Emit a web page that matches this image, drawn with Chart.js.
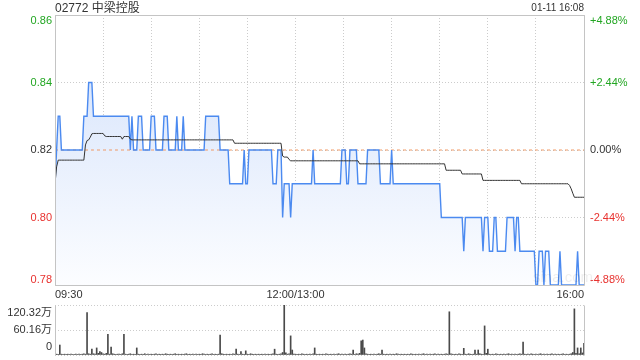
<!DOCTYPE html>
<html>
<head>
<meta charset="utf-8">
<title>02772 中梁控股</title>
<script src="https://cdn.jsdelivr.net/npm/chart.js@4.4.1/dist/chart.umd.min.js"></script>
<style>
  body { margin: 0; background: #fff; }
  #box { position: relative; width: 640px; height: 360px; overflow: hidden; color: #333;
         font-family: 'Liberation Sans', Arial, 'Noto Sans CJK SC', sans-serif; }
  #name { position: absolute; left: 55px; top: 1px; font-size: 12px; line-height: 14px; }
  #stamp { position: absolute; right: 56px; top: 2px; font-size: 10px; line-height: 12px; }
  #mark { position: absolute; left: 533px; top: 268px; font-size: 15px; color: rgba(0, 0, 0, 0.07); }
  canvas { position: absolute; left: 0; }
  #priceChart { top: 0; }
  #volChart { top: 300px; }
</style>
</head>
<body>
<div id="box">
  <canvas id="priceChart" width="640" height="300"></canvas>
  <canvas id="volChart" width="640" height="60"></canvas>
  <div id="name">02772 中梁控股</div>
  <div id="stamp">01-11 16:08</div>
  <div id="mark">sina.com</div>
</div>
<script>
const prevClose = 0.82;
const priceTicks = [0.78, 0.80, 0.82, 0.84, 0.86];
const volTicks = [0, 60.16, 120.32];
const gridMinutes = [0, 30, 60, 90, 120, 150, 180, 210, 240, 270, 300, 330];
const timeLabelMinutes = [0, 150, 330];
const timeLabels = ['09:30', '12:00/13:00', '16:00'];

// one value per trading minute, 09:30 .. 16:00 (lunch break removed)
const prices = [
  0.81,0.82,0.83,0.83,0.82,0.82,0.82,0.82,0.82,0.82,0.82,0.82,0.82,0.82,0.82,0.82,0.82,0.82,0.83,0.83,0.83,0.84,0.84,0.84,0.83,0.83,0.83,0.83,0.83,0.83,
  0.83,0.83,0.83,0.83,0.83,0.83,0.83,0.83,0.83,0.83,0.83,0.83,0.83,0.83,0.83,0.83,0.83,0.82,0.83,0.82,0.82,0.82,0.83,0.83,0.83,0.82,0.82,0.82,0.82,0.82,
  0.83,0.83,0.83,0.82,0.82,0.82,0.82,0.82,0.83,0.83,0.83,0.82,0.82,0.82,0.82,0.82,0.83,0.82,0.82,0.82,0.83,0.82,0.82,0.82,0.82,0.82,0.82,0.82,0.82,0.82,
  0.82,0.82,0.82,0.82,0.83,0.83,0.83,0.83,0.83,0.83,0.83,0.83,0.83,0.82,0.82,0.82,0.82,0.82,0.82,0.81,0.81,0.81,0.81,0.81,0.81,0.81,0.81,0.81,0.82,0.81,
  0.81,0.82,0.82,0.82,0.82,0.82,0.82,0.82,0.82,0.82,0.82,0.82,0.82,0.82,0.82,0.82,0.81,0.81,0.81,0.82,0.82,0.82,0.80,0.81,0.81,0.81,0.81,0.80,0.81,0.81,
  0.81,0.81,0.81,0.81,0.81,0.81,0.81,0.81,0.81,0.81,0.81,0.82,0.81,0.81,0.81,0.81,0.81,0.81,0.81,0.81,0.81,0.81,0.81,0.81,0.81,0.81,0.81,0.81,0.81,0.82,
  0.82,0.82,0.81,0.81,0.82,0.82,0.82,0.82,0.82,0.81,0.81,0.81,0.81,0.81,0.81,0.82,0.82,0.82,0.82,0.82,0.82,0.82,0.82,0.81,0.81,0.81,0.81,0.81,0.81,0.81,
  0.82,0.81,0.81,0.81,0.81,0.81,0.81,0.81,0.81,0.81,0.81,0.81,0.81,0.81,0.81,0.81,0.81,0.81,0.81,0.81,0.81,0.81,0.81,0.81,0.81,0.81,0.81,0.81,0.81,0.81,
  0.81,0.80,0.80,0.80,0.80,0.80,0.80,0.80,0.80,0.80,0.80,0.80,0.80,0.80,0.80,0.79,0.80,0.80,0.80,0.80,0.80,0.80,0.80,0.80,0.80,0.80,0.80,0.79,0.80,0.80,
  0.80,0.79,0.79,0.79,0.80,0.80,0.79,0.79,0.79,0.79,0.79,0.79,0.80,0.80,0.80,0.80,0.80,0.79,0.80,0.80,0.79,0.79,0.79,0.79,0.79,0.79,0.79,0.79,0.79,0.79,
  0.78,0.78,0.79,0.79,0.79,0.78,0.79,0.79,0.79,0.78,0.78,0.78,0.78,0.78,0.78,0.79,0.78,0.78,0.78,0.78,0.78,0.78,0.78,0.78,0.78,0.78,0.79,0.78,0.78,0.78,
  0.78
];

const avgPrices = [
  0.810,0.815,0.817,0.817,0.817,0.817,0.817,0.817,0.817,0.817,0.817,0.817,0.817,0.817,0.817,0.817,0.817,0.817,0.817,0.8215,0.8228,0.8230,0.8238,0.8248,0.8249,0.8249,0.8249,0.8249,0.8249,0.8249,
  0.8249,0.8242,0.824,0.824,0.824,0.824,0.824,0.824,0.824,0.824,0.824,0.824,0.8232,0.824,0.824,0.824,0.824,0.8232,0.823,0.823,0.823,0.823,0.823,0.823,0.823,0.823,0.823,0.823,0.823,0.823,
  0.823,0.823,0.823,0.823,0.823,0.823,0.823,0.823,0.823,0.823,0.823,0.823,0.823,0.823,0.823,0.823,0.823,0.823,0.823,0.823,0.823,0.823,0.823,0.823,0.823,0.823,0.823,0.823,0.823,0.823,
  0.823,0.823,0.823,0.823,0.823,0.823,0.823,0.823,0.823,0.823,0.823,0.823,0.823,0.823,0.823,0.823,0.823,0.823,0.823,0.823,0.823,0.823,0.822,0.822,0.822,0.822,0.822,0.822,0.822,0.822,
  0.822,0.822,0.822,0.822,0.822,0.822,0.822,0.822,0.822,0.822,0.822,0.822,0.822,0.822,0.822,0.822,0.822,0.822,0.822,0.822,0.822,0.822,0.8182,0.8179,0.8179,0.8179,0.8172,0.8168,0.8168,0.8168,
  0.8168,0.8168,0.8168,0.8168,0.8168,0.8168,0.8168,0.8168,0.8168,0.8168,0.8168,0.8168,0.8168,0.8168,0.8168,0.8168,0.8168,0.8168,0.8168,0.8168,0.8168,0.8168,0.8168,0.8168,0.8168,0.8168,0.8168,0.8168,0.8168,0.8168,
  0.8168,0.8168,0.8168,0.8168,0.8168,0.8168,0.8168,0.8168,0.8168,0.8168,0.8159,0.8159,0.8159,0.8159,0.8159,0.8159,0.8159,0.8159,0.8159,0.8159,0.8159,0.8159,0.8159,0.8159,0.8159,0.8159,0.8159,0.8159,0.8159,0.8159,
  0.8159,0.8159,0.8159,0.8159,0.8159,0.8159,0.8159,0.8159,0.8159,0.8159,0.8159,0.8159,0.8159,0.8159,0.8159,0.8159,0.8159,0.8159,0.8159,0.8159,0.8159,0.8159,0.8159,0.8159,0.8159,0.8159,0.8159,0.8159,0.8159,0.8159,
  0.8159,0.8159,0.8159,0.8159,0.814,0.814,0.814,0.814,0.814,0.814,0.814,0.814,0.814,0.814,0.8129,0.8129,0.8129,0.8129,0.8129,0.8129,0.8129,0.8129,0.8129,0.8129,0.8129,0.8129,0.8129,0.811,0.811,0.811,
  0.811,0.811,0.811,0.811,0.811,0.811,0.811,0.811,0.811,0.811,0.811,0.811,0.811,0.811,0.811,0.811,0.811,0.811,0.811,0.811,0.811,0.810,0.810,0.810,0.810,0.810,0.810,0.810,0.810,0.810,
  0.810,0.810,0.810,0.810,0.810,0.810,0.810,0.810,0.810,0.810,0.810,0.810,0.810,0.810,0.810,0.810,0.810,0.810,0.810,0.810,0.810,0.8095,0.8085,0.8072,0.806,0.806,0.806,0.806,0.806,0.806,
  0.806
];

// 万股
const volumes = [
  5,2,1,24,2,1,2,1,2,1,2,1,1,2,1,2,1,2,3,2,102,3,2,14,3,2,17,4,8,6,
  3,2,4,50,2,19,3,2,1,2,2,1,3,50,2,1,2,3,1,2,1,17,2,1,2,1,3,1,2,1,
  2,1,2,3,1,2,1,2,1,3,2,1,2,1,2,3,1,2,1,2,1,2,3,1,2,1,2,1,2,1,
  2,1,3,2,1,2,1,2,3,1,2,1,2,48,3,2,1,2,1,2,1,3,2,14,2,1,8,2,1,10,
  2,1,3,2,1,2,1,2,1,2,1,2,1,2,1,2,3,14,2,1,2,3,6,120.32,5,2,3,46,12,2,
  2,1,2,1,3,2,1,2,1,2,1,3,17,2,1,2,1,2,1,3,2,1,2,1,2,1,2,3,1,2,
  1,2,1,2,3,2,12,1,3,2,4,34,36,17,3,2,1,2,1,2,1,2,3,2,12,2,1,2,1,2,
  1,2,1,3,2,1,2,1,2,1,2,1,3,2,1,2,1,2,1,2,3,1,2,1,2,1,2,3,1,2,
  1,2,1,2,3,2,104,3,2,1,2,1,3,2,1,16,2,1,3,2,1,2,12,2,12,3,2,1,70,4,
  14,2,1,2,1,3,2,1,2,1,2,1,2,3,1,2,1,2,1,2,3,2,31,2,1,2,1,3,2,1,
  2,1,2,3,1,2,1,2,1,2,3,1,2,1,2,1,2,3,1,2,1,2,3,6,111,4,17,3,17,5,
  28
];

const minutes = prices.map((p, i) => i);

const green = '#22a622';
const red = '#e8322f';
const ink = '#333';
const gridColor = '#cccccc';

function tickColor(v) {
  if (v > prevClose + 1e-6) return green;
  if (v < prevClose - 1e-6) return red;
  return ink;
}

// top label hangs below its line, bottom label sits above it
function edgeLabel(text, i, n) {
  if (i === n - 1) return ['', text];
  if (i === 0) return [text, ''];
  return text;
}

function pctLabel(v) {
  const p = (v - prevClose) / prevClose * 100;
  return (p > 0.001 ? '+' : '') + p.toFixed(2) + '%';
}

const frame = {
  id: 'frame',
  afterDraw(chart, args, opts) {
    const a = chart.chartArea;
    const ctx = chart.ctx;
    const l = Math.round(a.left) + 0.5, r = Math.round(a.right) + 0.5;
    const t = Math.round(a.top) + 0.5, b = Math.round(a.bottom) + 0.5;
    ctx.save();
    ctx.strokeStyle = '#c4c4c4';
    ctx.lineWidth = 1;
    ctx.setLineDash([]);
    ctx.beginPath();
    ctx.moveTo(l, t); ctx.lineTo(l, b);
    ctx.moveTo(r, t); ctx.lineTo(r, b);
    if (opts.box) {
      ctx.moveTo(l, t); ctx.lineTo(r, t);
      ctx.moveTo(l, b); ctx.lineTo(r, b);
    }
    ctx.stroke();
    ctx.restore();
  }
};

Chart.defaults.font.family = "'Liberation Sans', Arial, 'Noto Sans CJK SC', sans-serif";
Chart.defaults.font.size = 11;
Chart.defaults.color = ink;

document.addEventListener('DOMContentLoaded', function() {
  new Chart(document.getElementById('priceChart'), {
    type: 'line',
    data: {
      labels: minutes,
      datasets: [{
        label: '均价',
        data: avgPrices,
        borderColor: '#333',
        borderWidth: 1,
        order: 1
      }, {
        label: '价格',
        data: prices,
        borderColor: '#4b8af0',
        borderWidth: 1.4,
        fill: 'start',
        backgroundColor: function(c) {
          const area = c.chart.chartArea;
          if (!area) return 'rgba(0,0,0,0)';
          const g = c.chart.ctx.createLinearGradient(0, area.top, 0, area.bottom);
          g.addColorStop(0, '#d1e0fb');
          g.addColorStop(1, '#fcfdff');
          return g;
        },
        order: 2
      }, {
        label: '昨收',
        data: prices.map(() => prevClose),
        borderColor: '#f09660',
        borderWidth: 1,
        borderDash: [3, 3],
        order: 3
      }]
    },
    options: {
      responsive: false,
      animation: false,
      layout: { padding: { top: 15, left: 0, right: 0, bottom: 0 } },
      elements: { point: { radius: 0 }, line: { tension: 0 } },
      plugins: {
        legend: { display: false },
        tooltip: { enabled: false },
        filler: { drawTime: 'beforeDatasetsDraw' },
        frame: { box: true }
      },
      scales: {
        x: {
          type: 'linear',
          min: 0,
          max: 330,
          afterBuildTicks: s => { s.ticks = gridMinutes.map(v => ({ value: v })); },
          afterFit: s => { s.height = 15; s.paddingLeft = 0; s.paddingRight = 0; },
          grid: { color: gridColor, drawTicks: false },
          border: { display: false, dash: [1, 2] },
          ticks: {
            autoSkip: false,
            maxRotation: 0,
            padding: 3,
            color: ink,
            callback: function(v) {
              const k = timeLabelMinutes.indexOf(v);
              if (k < 0) return '';
              if (k === 0) return ' '.repeat(9) + timeLabels[k];
              if (k === timeLabels.length - 1) return timeLabels[k] + ' '.repeat(9);
              return timeLabels[k];
            }
          }
        },
        y: {
          position: 'left',
          min: 0.78,
          max: 0.86,
          afterBuildTicks: s => { s.ticks = priceTicks.map(v => ({ value: v })); },
          afterFit: s => { s.width = 55; s.paddingTop = 0; s.paddingBottom = 0; },
          grid: { color: gridColor, drawTicks: false },
          border: { display: false, dash: [1, 2] },
          ticks: {
            autoSkip: false,
            padding: 3,
            font: { size: 11, lineHeight: 1 },
            color: c => tickColor(c.tick.value),
            callback: (v, i, t) => edgeLabel(v.toFixed(2), i, t.length)
          }
        },
        y2: {
          position: 'right',
          min: 0.78,
          max: 0.86,
          afterBuildTicks: s => { s.ticks = priceTicks.map(v => ({ value: v })); },
          afterFit: s => { s.width = 56; s.paddingTop = 0; s.paddingBottom = 0; },
          grid: { display: false, drawTicks: false },
          border: { display: false },
          ticks: {
            autoSkip: false,
            padding: 6,
            font: { size: 11, lineHeight: 1 },
            color: c => tickColor(c.tick.value),
            callback: (v, i, t) => edgeLabel(pctLabel(v), i, t.length)
          }
        }
      }
    },
    plugins: [frame]
  });

  new Chart(document.getElementById('volChart'), {
    type: 'bar',
    data: {
      labels: minutes,
      datasets: [{
        label: '成交量',
        data: volumes,
        backgroundColor: '#4a4a4a',
        barThickness: 1,
        borderWidth: 0
      }]
    },
    options: {
      responsive: false,
      animation: false,
      layout: { padding: { top: 5, left: 0, right: 56, bottom: 5 } },
      plugins: {
        legend: { display: false },
        tooltip: { enabled: false },
        frame: { box: false }
      },
      scales: {
        x: { type: 'linear', min: 0, max: 330, offset: false, display: false },
        y: {
          min: 0,
          max: 120.32,
          afterBuildTicks: s => { s.ticks = volTicks.map(v => ({ value: v })); },
          afterFit: s => { s.width = 55; s.paddingTop = 0; s.paddingBottom = 0; },
          grid: { color: gridColor, drawTicks: false },
          border: { display: false, dash: [1, 2] },
          ticks: {
            autoSkip: false,
            padding: 3,
            color: ink,
            font: { size: 11, lineHeight: 1.45 },
            callback: (v, i, t) => edgeLabel(v === 0 ? '0' : v.toFixed(2) + '万', i, t.length)
          }
        }
      }
    },
    plugins: [frame]
  });
});
</script>
</body>
</html>
